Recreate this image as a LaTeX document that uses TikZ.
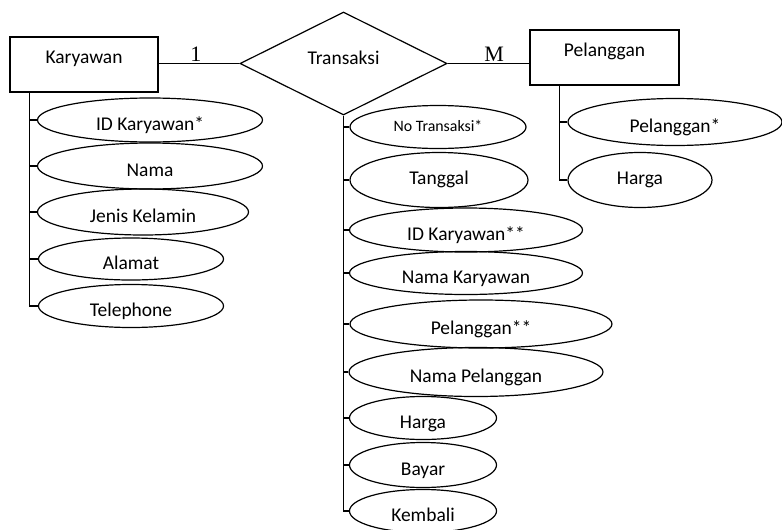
\documentclass[tikz,border=0pt]{standalone}
\usepackage{fontspec}
\setmainfont{Carlito}
\newfontfamily\cardfont{Liberation Serif}
\usetikzlibrary{shapes.geometric, calc}
\tikzset{
  line/.style={draw=black, line width=0.9pt},
  entity/.style={draw=black, line width=0.9pt, rectangle, inner sep=0pt, minimum width=111pt, minimum height=41.25pt, font=\fontsize{14.6}{17}\selectfont, text height=4pt, text depth=5.3pt},
  relation/.style={draw=black, line width=0.9pt, diamond, aspect=2, inner sep=0pt, minimum width=155.25pt, minimum height=77.25pt, font=\fontsize{14.6}{17}\selectfont, text height=5pt, text depth=3.3pt},
  attr/.style 2 args={draw=black, line width=0.9pt, ellipse, inner sep=0pt, minimum width=#1, minimum height=#2, font=\fontsize{14.6}{17}\selectfont, text height=16pt, text depth=1pt},
  mid/.style={text height=10pt, text depth=3pt},
  card/.style={font=\cardfont\fontsize{16.5}{19}\selectfont, above, inner sep=1pt}
}
\begin{document}
\begin{tikzpicture}[x=0.75pt, y=-0.75pt]
  \useasboundingbox (0,0) rectangle (782,529);
  \clip (0,0) rectangle (782,529);

  % entities and relation
  \node [entity] (kary) at (84,64.5) {Karyawan};
  \node [relation] (trx) at (343.5,63.5) {Transaksi};
  \node [entity, minimum width=111.75pt] (pel) at (604.5,57.5) {Pelanggan};

  \draw [line] (trx.west -| kary.east) -- node[card, pos=0.46] {1} (trx.west);
  \draw [line] (trx.east) -- node[card, pos=0.57] {M} (trx.east -| pel.west);

  % Karyawan attributes
  \node [attr={168.75pt}{33pt}] (ka1) at (150,120) {ID Karyawan*};
  \node [attr={168.75pt}{34.5pt}] (ka2) at (150,166) {Nama};
  \node [attr={158.25pt}{34.5pt}] (ka3) at (143,212) {Jenis Kelamin};
  \node [attr={138.75pt}{31.5pt}] (ka4) at (131,259) {Alamat};
  \node [attr={138.75pt}{32.25pt}] (ka5) at (131,306) {Telephone};

  \coordinate (kspine) at ($(kary.south west)+(20,0)$);
  \draw [line] (kspine) |- (ka5.west);
  \foreach \a in {ka1,ka2,ka3,ka4}
    \draw [line] (\a.west) -- (\a.west -| kspine);

  % Transaksi attributes
  \node [attr={132pt}{32.25pt}, mid, font=\fontsize{11.9}{14}\selectfont] (ta1) at (438,127) {No Transaksi*};
  \node [attr={133.5pt}{41.25pt}, mid] (ta2) at (439,180) {Tanggal};
  \node [attr={174.75pt}{33pt}] (ta3) at (466,230) {ID Karyawan**};
  \node [attr={174.75pt}{32.25pt}] (ta4) at (466,273) {Nama Karyawan};
  \node [attr={196.5pt}{36pt}] (ta5) at (481,324) {Pelanggan**};
  \node [attr={190.5pt}{36.75pt}] (ta6) at (476,372) {Nama Pelanggan};
  \node [attr={110.25pt}{32.25pt}] (ta7) at (423,418) {Harga};
  \node [attr={110.25pt}{33.75pt}] (ta8) at (423,465) {Bayar};
  \node [attr={110.25pt}{32.25pt}] (ta9) at (423,511) {Kembali};

  \draw [line] (trx.south) |- (ta9.west);
  \foreach \a in {ta1,ta2,ta3,ta4,ta5,ta6,ta7,ta8}
    \draw [line] (\a.west) -- (\a.west -| trx.south);

  % Pelanggan attributes
  \node [attr={160.5pt}{35.25pt}] (pa1) at (675,122) {Pelanggan*};
  \node [attr={108pt}{41.25pt}, mid] (pa2) at (640,180) {Harga};

  \coordinate (pspine) at ($(pel.south west)+(30,0)$);
  \draw [line] (pspine) |- (pa2.west);
  \draw [line] (pa1.west) -- (pa1.west -| pspine);
\end{tikzpicture}
\end{document}
